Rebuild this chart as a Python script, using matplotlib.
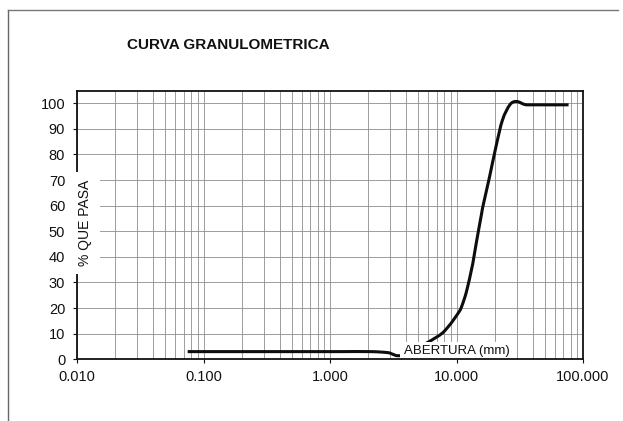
import matplotlib
matplotlib.use("Agg")
import numpy as np
import matplotlib.pyplot as plt
from matplotlib.lines import Line2D
from matplotlib.path import Path
from matplotlib.patches import PathPatch
from matplotlib.ticker import LogLocator, FixedLocator, FixedFormatter, NullFormatter

plt.rcParams["font.family"] = ["Liberation Sans", "DejaVu Sans"]

# Particle size distribution: sieve opening (mm) vs. percent passing
abertura_mm = [0.075, 0.15, 0.3, 0.6, 1.18, 2.1, 2.87, 3.78,
               7.03, 8.59, 10.3, 10.96, 12.0, 13.2, 13.6, 14.4, 15.8, 16.3,
               18.2, 20.5, 23.1, 26.5, 29.9, 34.8, 40.6, 76.9]
pct_pasa = [3.0, 3.0, 3.0, 3.0, 3.0, 3.0, 2.6, 1.7,
            8.8, 12.7, 18.0, 20.5, 26.5, 35.5, 38.8, 46.0, 57.0, 60.5,
            71.0, 83.0, 93.5, 99.5, 100.7, 99.5, 99.4, 99.4]

x_ticks = [0.01, 0.1, 1, 10, 100]
x_tick_labels = ["0.010", "0.100", "1.000", "10.000", "100.000"]
y_ticks = [0, 10, 20, 30, 40, 50, 60, 70, 80, 90, 100]


def smooth_path(xs, ys):
    """Smoothed line through every point (Catmull-Rom as cubic Beziers, built in log-x space)."""
    u = np.log10(np.asarray(xs, float))
    v = np.asarray(ys, float)
    pts = np.column_stack([u, v])
    ext = np.vstack([pts[0], pts, pts[-1]])
    verts = [pts[0]]
    codes = [Path.MOVETO]
    for i in range(len(pts) - 1):
        p0, p1, p2, p3 = ext[i], ext[i + 1], ext[i + 2], ext[i + 3]
        c1 = p1 + (p2 - p0) / 6.0
        c2 = p2 - (p3 - p1) / 6.0
        verts += [c1, c2, p2]
        codes += [Path.CURVE4] * 3
    verts = np.array(verts)
    verts[:, 0] = 10 ** verts[:, 0]
    return Path(verts, codes)


W, H = 623, 421
fig = plt.figure(figsize=(W / 100, H / 100), dpi=100)
fig.patch.set_facecolor("white")

ax = fig.add_axes([77 / W, 1 - 359.3 / H, (583 - 77) / W, (359.3 - 91) / H])
ax.set_xscale("log")
ax.set_xlim(0.01, 100)
ax.set_ylim(0, 104.8)

ax.xaxis.set_major_locator(FixedLocator(x_ticks))
ax.xaxis.set_major_formatter(FixedFormatter(x_tick_labels))
ax.xaxis.set_minor_locator(LogLocator(base=10, subs=[2, 3, 4, 5, 6, 7, 8, 9], numticks=20))
ax.xaxis.set_minor_formatter(NullFormatter())
ax.set_yticks(y_ticks)

ax.tick_params(axis="both", which="major", direction="out", length=3, width=0.8,
               labelsize=10.5, colors="#111111")
ax.tick_params(axis="x", which="major", pad=5)
ax.tick_params(axis="y", which="major", pad=5.5)
ax.tick_params(axis="x", which="minor", length=0)

ax.grid(True, which="both", axis="x", color="#8e8e8e", linewidth=0.6)
ax.grid(True, which="major", axis="y", color="#8e8e8e", linewidth=0.6)
ax.set_axisbelow(True)

for side in ["top", "right", "bottom", "left"]:
    ax.spines[side].set_linewidth(1.3)
    ax.spines[side].set_color("#111111")
ax.spines["bottom"].set_zorder(6)
ax.spines["top"].set_zorder(6)
ax.spines["right"].set_zorder(6)

curve = PathPatch(smooth_path(abertura_mm, pct_pasa), facecolor="none",
                  edgecolor="#0d0d0d", linewidth=2.2, joinstyle="round",
                  capstyle="butt", zorder=3)
ax.add_patch(curve)

# Axis captions placed inside the plot area on white boxes
ax.text(0.016, 0.508, "% QUE PASA", transform=ax.transAxes, rotation=90,
        ha="center", va="center", fontsize=10, color="#111111", zorder=5,
        bbox=dict(boxstyle="square,pad=0.6", facecolor="white", edgecolor="none"))
ax.text(10, 3.3, "ABERTURA (mm)", ha="center", va="center", fontsize=9.5,
        color="#111111", zorder=5,
        bbox=dict(boxstyle="square,pad=0.25", facecolor="white", edgecolor="none"))

fig.text(228 / W, 1 - 45 / H, "CURVA GRANULOMETRICA", ha="center", va="center",
         fontsize=11, fontweight="bold", color="#111111")

# Outer page frame (left and top edges)
fig.add_artist(Line2D([8 / W, 8 / W], [0, 1 - 10 / H], transform=fig.transFigure,
                      color="#666666", linewidth=1.0))
fig.add_artist(Line2D([8 / W, 618 / W], [1 - 10 / H, 1 - 10 / H], transform=fig.transFigure,
                      color="#777777", linewidth=1.0))

fig.savefig("out.png", dpi=100, facecolor="white")
